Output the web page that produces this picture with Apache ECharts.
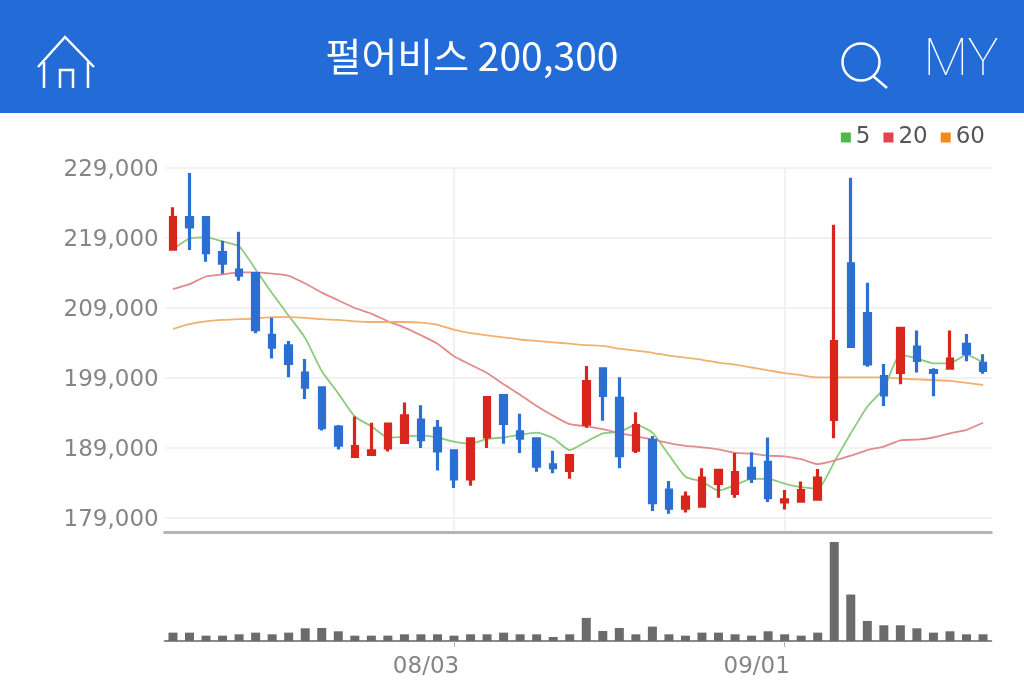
<!DOCTYPE html>
<html>
<head>
<meta charset="utf-8">
<style>html,body{margin:0;padding:0;background:#fff}#chart{width:1024px;height:693px}</style>
<script src="https://cdn.jsdelivr.net/npm/echarts@6/dist/echarts.min.js"></script>
</head>
<body>
<div id="chart"></div>
<script>
var dates = ['07/09','07/10','07/13','07/14','07/15','07/16','07/17','07/20','07/21','07/22','07/23','07/24','07/27','07/28','07/29','07/30','07/31',
	'08/03','08/04','08/05','08/06','08/07','08/10','08/11','08/12','08/13','08/14','08/18','08/19','08/20','08/21','08/24','08/25','08/26','08/27','08/28','08/31',
	'09/01','09/02','09/03','09/04','09/07','09/08','09/09','09/10','09/11','09/14','09/15','09/16','09/17'];
var opens = [217400,221900,221900,216900,214400,213900,205100,203600,199700,197600,192000,187800,188100,189000,189800,193000,191800,
	188600,184600,190600,196500,191300,190300,186600,185800,192400,200300,196100,188700,190100,183000,180400,180700,183950,182500,186100,186950,
	181300,181400,181700,193100,215300,208200,199200,199800,203400,200050,200400,203800,201100];
var closes = [221900,220600,216900,215400,213700,205900,203400,201100,197700,191900,189400,189200,188600,192400,193600,190200,188600,
	184600,190300,196200,192500,190400,186400,186200,187900,198500,196500,187900,192200,181200,180400,182000,184700,185800,185500,184700,181900,
	181600,182900,184700,204200,203500,201000,196600,206100,201500,199800,201700,202500,200100];
var lows = [217300,217300,215600,213900,212900,205400,201800,199100,196000,191500,188800,187800,188100,188500,189600,189000,185800,
	183300,183600,189000,189600,188300,185600,185400,184600,191900,192900,186100,188300,180000,179600,179800,180700,181900,181900,184000,181300,
	180200,181300,181700,190400,203300,200600,195000,198100,199800,196400,200400,201400,199600];
var highs = [223400,228300,221900,218600,219900,213900,207600,204300,201700,197600,192300,193500,192600,192600,195500,195100,193000,
	188600,190300,196300,196500,193900,190300,188600,187900,200700,200300,199100,194100,190700,184300,182800,186100,186000,188300,188400,190500,
	183000,184200,186000,220900,227600,212600,201000,206100,205800,200400,205800,205300,202400];
var ma5 = [217400,218900,219100,218500,217800,214500,211100,207900,204700,200000,196800,193500,192100,190500,190600,190800,190500,
	189900,189600,190300,190500,190900,191200,190400,188700,189900,191100,191300,192300,191200,188000,184900,184200,182900,183700,184600,184600,
	183900,183400,183200,187000,191100,194900,197500,202300,201800,201100,201100,202300,201200];
var ma20 = [211700,212400,213500,213800,214100,214100,213900,213600,212500,211200,210100,209000,208200,207100,206200,205100,203900,
	202100,200900,199700,198100,196600,195000,193600,192400,192100,191700,191100,190700,190200,189700,189300,189100,188800,188300,188200,187900,
	187800,187400,186700,187200,187900,188700,189200,190100,190200,190500,191100,191600,192600];
var ma60 = [206000,206700,207100,207300,207400,207500,207700,207700,207600,207400,207300,207100,207000,207000,207000,206900,206600,
	205900,205400,205100,204800,204500,204300,204100,203900,203700,203600,203200,202900,202600,202200,201900,201600,201200,200900,200500,200100,
	199700,199400,199100,199100,199100,199100,199100,198900,198800,198700,198600,198300,198000];
var volumes = [25,25,16,16,20,25,20,25,38,39,29,16,16,16,20,20,20,
	16,20,20,25,20,20,12,20,69,30,39,20,43,20,16,25,25,20,16,29,
	20,16,25,296,139,60,47,47,38,25,29,20,20];
var priceTicks = [179000,189000,199000,209000,219000,229000];
var volumeMax = 296;
var labelDates = ['08/03','09/01'];
var maNames = ['5','20','60'];

var lightFont = 'DejaVu Sans';

function isLabelDate(index, value) {
	return labelDates.indexOf(dates[index]) >= 0;
}

var myChart = echarts.init(document.getElementById('chart'));
myChart.setOption({
	animation: false,
	backgroundColor: '#fff',
	legend: {
		top: 121,
		right: 34,
		itemWidth: 10,
		itemHeight: 10,
		itemGap: 13,
		selectedMode: false,
		textStyle: {color: '#555', fontFamily: lightFont, fontSize: 23},
		data: [
			{name: maNames[0], icon: 'rect', itemStyle: {color: '#4fb848'}},
			{name: maNames[1], icon: 'rect', itemStyle: {color: '#e0454f'}},
			{name: maNames[2], icon: 'rect', itemStyle: {color: '#f08a1d'}}
		]
	},
	grid: [
		{left: 164.7, width: 826.6, top: 168, height: 364},
		{left: 164.7, width: 826.6, top: 542, height: 99}
	],
	xAxis: [{
		type: 'category',
		gridIndex: 0,
		data: dates,
		axisLine: {lineStyle: {color: '#b4b4b4', width: 3}},
		axisTick: {show: false},
		axisLabel: {show: false},
		splitLine: {show: true, alignWithLabel: true, interval: isLabelDate, lineStyle: {color: '#eeeeee', width: 1.5}}
	}, {
		type: 'category',
		gridIndex: 1,
		data: dates,
		axisLine: {lineStyle: {color: '#8a8a8a', width: 2}},
		axisTick: {show: true, alignWithLabel: true, interval: isLabelDate, length: 6, lineStyle: {color: '#b0b0b0'}},
		axisLabel: {interval: isLabelDate, color: '#858585', fontFamily: lightFont, fontSize: 23, margin: 15, padding: [0, 56, 0, 0]}
	}],
	yAxis: [{
		type: 'value',
		gridIndex: 0,
		min: 177000,
		max: 229000,
		axisLine: {show: false},
		axisTick: {show: false, customValues: priceTicks},
		axisLabel: {
			customValues: priceTicks,
			color: '#858585',
			fontFamily: lightFont,
			fontSize: 23,
			margin: 6,
			verticalAlign: 'top',
			lineHeight: 4,
			formatter: function(value) {
				return value.toLocaleString('en-US');
			}
		},
		splitLine: {show: true, lineStyle: {color: '#eeeeee', width: 1.5}}
	}, {
		type: 'value',
		gridIndex: 1,
		min: 0,
		max: volumeMax,
		show: false
	}],
	series: [{
		name: 'candle',
		type: 'candlestick',
		xAxisIndex: 0,
		yAxisIndex: 0,
		barWidth: 6,
		z: 3,
		itemStyle: {color: '#d9261c', color0: '#2a6fd1', borderColor: '#d9261c', borderColor0: '#2a6fd1', borderWidth: 3.2},
		data: dates.map(function(d, i) {
			return [opens[i], closes[i], lows[i], highs[i]];
		})
	}, {
		name: maNames[0],
		type: 'line',
		showSymbol: false,
		smooth: 0.2,
		data: ma5,
		lineStyle: {color: '#8ccb7e', width: 1.8},
		z: 2
	}, {
		name: maNames[1],
		type: 'line',
		showSymbol: false,
		smooth: 0.2,
		data: ma20,
		lineStyle: {color: '#e28a8e', width: 1.8},
		z: 2
	}, {
		name: maNames[2],
		type: 'line',
		showSymbol: false,
		smooth: 0.2,
		data: ma60,
		lineStyle: {color: '#f2b06e', width: 1.8},
		z: 2
	}, {
		name: 'volume',
		type: 'bar',
		xAxisIndex: 1,
		yAxisIndex: 1,
		barWidth: 9,
		itemStyle: {color: '#6b6b6b'},
		data: volumes
	}],
	graphic: [
		{type: 'rect', shape: {x: 0, y: 0, width: 1024, height: 113}, style: {fill: '#236bd6'}, z: 10},
		{type: 'text', x: 472, y: 56, style: {text: '펄어비스 200,300', fill: '#fff', font: '400 39px "Noto Sans CJK KR"', align: 'center', verticalAlign: 'middle'}, z: 11},
		// 집 아이콘
		{type: 'polyline', shape: {points: [[38,67],[65,37],[94,67]]}, style: {stroke: '#fff', lineWidth: 2.5, fill: null}, z: 11},
		{type: 'polyline', shape: {points: [[44,62],[44,88]]}, style: {stroke: '#fff', lineWidth: 2.5, fill: null}, z: 11},
		{type: 'polyline', shape: {points: [[88,62],[88,88]]}, style: {stroke: '#fff', lineWidth: 2.5, fill: null}, z: 11},
		{type: 'polyline', shape: {points: [[60,88],[60,70],[73,70],[73,88]]}, style: {stroke: '#fff', lineWidth: 2.5, fill: null}, z: 11},
		// 검색 아이콘
		{type: 'circle', shape: {cx: 861, cy: 62, r: 18.5}, style: {stroke: '#fff', lineWidth: 2.5, fill: null}, z: 11},
		{type: 'line', shape: {x1: 873, y1: 76, x2: 887, y2: 88}, style: {stroke: '#fff', lineWidth: 2.5}, z: 11},
		{type: 'text', x: 961, y: 62, style: {text: 'MY', fill: '#fff', font: '100 52px Roboto', align: 'center', verticalAlign: 'middle'}, z: 11}
	]
});
</script>
</body>
</html>
